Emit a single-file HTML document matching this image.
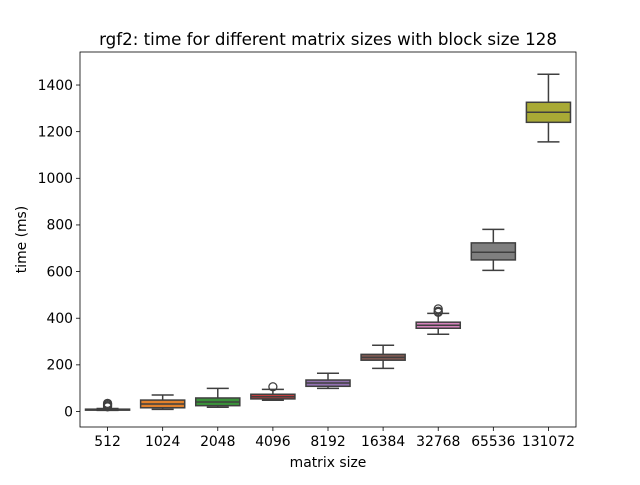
<!DOCTYPE html>
<html><head><meta charset="utf-8"><style>
body{margin:0;background:#fff}
svg{font-family:"DejaVu Sans","Liberation Sans",sans-serif}
</style></head><body>
<svg id="chart" width="640" height="480"></svg>
<script>
const categories=["512","1024","2048","4096","8192","16384","32768","65536","131072"];
const whiskerLow=[5,9,18,48,99,185,331,605,1156];
const q1=[6,16,25,54,108,220,357,650,1240];
const medians=[8,32,41,63,122,232,370,683,1283];
const q3=[10,49,58,74,135,245,383,723,1326];
const whiskerHigh=[13,71,99,95,164,284,421,781,1446];
const outliers=[[20,25,30,35],[],[],[106],[],[],[425,430,440],[],[]];
const colors=["#3274a1","#e1812c","#3a923a","#c03d3e","#9372b2","#845b53","#d684bd","#7f7f7f","#a9aa35"];
const yTicks=[0,200,400,600,800,1000,1200,1400];

const NS="http://www.w3.org/2000/svg";
const svg=document.getElementById('chart');
const L=80,R=576,T=52,B=427;
const yMin=(411.5-B)/0.2332, yMax=(411.5-T)/0.2332;
const y=v=>B-(v-yMin)/(yMax-yMin)*(B-T);
const band=(R-L)/categories.length;
const x=i=>L+band*(i+0.5);
function mk(tag,attrs,parent){const e=document.createElementNS(NS,tag);for(const k in attrs)e.setAttribute(k,attrs[k]);(parent||svg).appendChild(e);return e;}
const lc="#3f3f3f";
categories.forEach((c,i)=>{
  const g=mk('g',{});
  
  
  const cx=x(i),w=band*0.8,cw=w/2;
  mk('line',{x1:cx,x2:cx,y1:y(whiskerLow[i]),y2:y(q1[i]),stroke:lc,'stroke-width':1.5},g);
  mk('line',{x1:cx,x2:cx,y1:y(q3[i]),y2:y(whiskerHigh[i]),stroke:lc,'stroke-width':1.5},g);
  mk('line',{x1:cx-cw/2,x2:cx+cw/2,y1:y(whiskerLow[i]),y2:y(whiskerLow[i]),stroke:lc,'stroke-width':1.5},g);
  mk('line',{x1:cx-cw/2,x2:cx+cw/2,y1:y(whiskerHigh[i]),y2:y(whiskerHigh[i]),stroke:lc,'stroke-width':1.5},g);
  mk('rect',{x:cx-w/2,y:y(q3[i]),width:w,height:Math.max(1,y(q1[i])-y(q3[i])),fill:colors[i],stroke:lc,'stroke-width':1.5},g);
  mk('line',{x1:cx-w/2,x2:cx+w/2,y1:y(medians[i]),y2:y(medians[i]),stroke:lc,'stroke-width':1.5},g);
  outliers[i].forEach(o=>{mk('circle',{cx:cx,cy:y(o),r:4,fill:'none',stroke:lc,'stroke-width':1.3},g);});
  mk('line',{x1:cx,x2:cx,y1:B,y2:B+4,stroke:'#000','stroke-width':0.8});
  const t=mk('text',{x:cx,y:B+19,'text-anchor':'middle','font-size':13.9});
  t.textContent=c;
  
  
});
yTicks.forEach(v=>{
  mk('line',{x1:L-4,x2:L,y1:y(v),y2:y(v),stroke:'#000','stroke-width':0.8});
  const t=mk('text',{x:L-7,y:y(v)+4.8,'text-anchor':'end','font-size':13.9});
  t.textContent=v;
  
  
});
const frame=mk('rect',{x:L,y:T,width:R-L,height:B-T,fill:'none',stroke:'#000','stroke-width':0.8});


const title=mk('text',{x:(L+R)/2,y:T-7,'text-anchor':'middle','font-size':16.7});
title.textContent="rgf2: time for different matrix sizes with block size 128";


const xl=mk('text',{x:(L+R)/2,y:467,'text-anchor':'middle','font-size':13.9});
xl.textContent="matrix size";


const yl=mk('text',{x:0,y:0,'text-anchor':'middle','font-size':13.9,transform:`translate(26,${(T+B)/2}) rotate(-90)`});
yl.textContent="time (ms)";


</script>
</body></html>
